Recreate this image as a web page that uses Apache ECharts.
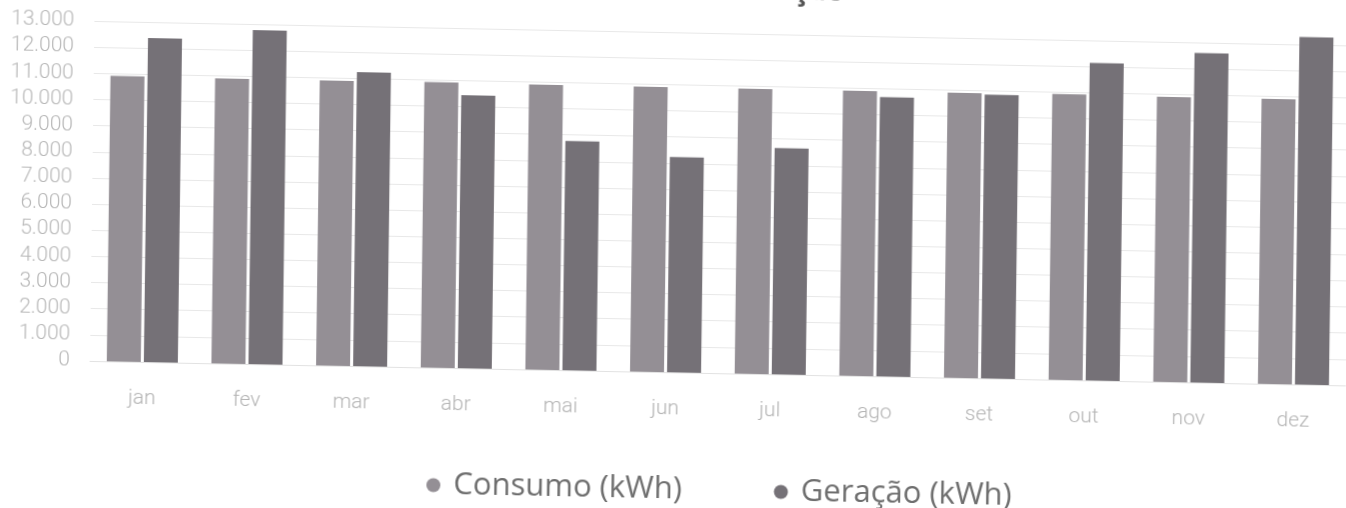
<!DOCTYPE html>
<html>
<head>
<meta charset="utf-8">
<script src="https://cdn.jsdelivr.net/npm/echarts@6/dist/echarts.min.js"></script>
<style>
  html, body { margin: 0; padding: 0; background: #fff; overflow: hidden; width: 1346px; height: 508px; }
  /* the reference is a slightly tilted scan whose title is cut at the top */
  #container {
    width: 1346px; height: 560px;
    margin-top: -52px;
    transform-origin: 143px 414px;
    transform: matrix(1, 0.0195, -0.013, 1, 0, 0);
  }
</style>
</head>
<body>
<div id="container"></div>
<script>
// chart data
const months = ['jan', 'fev', 'mar', 'abr', 'mai', 'jun', 'jul', 'ago', 'set', 'out', 'nov', 'dez'];
const consumo = [10920, 10900, 10900, 10920, 10900, 10900, 10900, 10900, 10900, 10930, 10900, 10900];
const geracao = [12390, 12770, 11240, 10440, 8770, 8230, 8650, 10680, 10850, 12140, 12600, 13290];
const seriesNames = ['Consumo (kWh)', 'Geração (kWh)'];
const titleText = 'Consumo x Geração';

let dom = document.getElementById('container');
let myChart = echarts.init(dom, null, { renderer: 'canvas' });

// 13000 -> "13.000"
function fmt(v) {
    return String(v).replace(/\B(?=(\d{3})+(?!\d))/g, '.');
}

let option = {
    animation: false,
    backgroundColor: '#fff',
    title: {
        text: titleText,
        right: 506,
        top: 15,
        padding: 0,
        textStyle: {
            fontFamily: 'Open Sans',
            fontSize: 30,
            fontWeight: 'bold',
            color: '#555'
        }
    },
    legend: {
        left: 428,
        top: 516,
        padding: 0,
        icon: 'circle',
        itemWidth: 30,
        itemHeight: 14,
        itemGap: 92,
        textStyle: {
            fontFamily: 'Open Sans',
            fontSize: 31,
            color: '#6e6e6e'
        },
        data: seriesNames
    },
    grid: {
        left: 90,
        right: -12,
        top: 74,
        bottom: 146,
        containLabel: false
    },
    xAxis: {
        type: 'category',
        data: months,
        axisLine: { lineStyle: { color: '#e2e2e2' } },
        axisTick: { show: false },
        axisLabel: {
            margin: 26,
            fontFamily: 'Roboto',
            fontWeight: 300,
            fontSize: 21,
            color: '#b4b4b4'
        }
    },
    yAxis: {
        type: 'value',
        min: 0,
        max: 13000,
        interval: 1000,
        axisLine: { show: false },
        axisTick: { show: false },
        splitLine: { lineStyle: { color: '#e8e8e8', width: 1 } },
        axisLabel: {
            margin: 20,
            fontFamily: 'Roboto',
            fontWeight: 300,
            fontSize: 21,
            color: '#b8b8b8',
            formatter: fmt
        }
    },
    series: [
        {
            name: seriesNames[0],
            type: 'bar',
            data: consumo,
            barWidth: 34,
            barGap: '9%',
            clip: false,
            itemStyle: { color: '#948f95' }
        },
        {
            name: seriesNames[1],
            type: 'bar',
            data: geracao,
            barWidth: 34,
            clip: false,
            itemStyle: { color: '#757177' }
        }
    ]
};
myChart.setOption(option);
</script>
</body>
</html>
